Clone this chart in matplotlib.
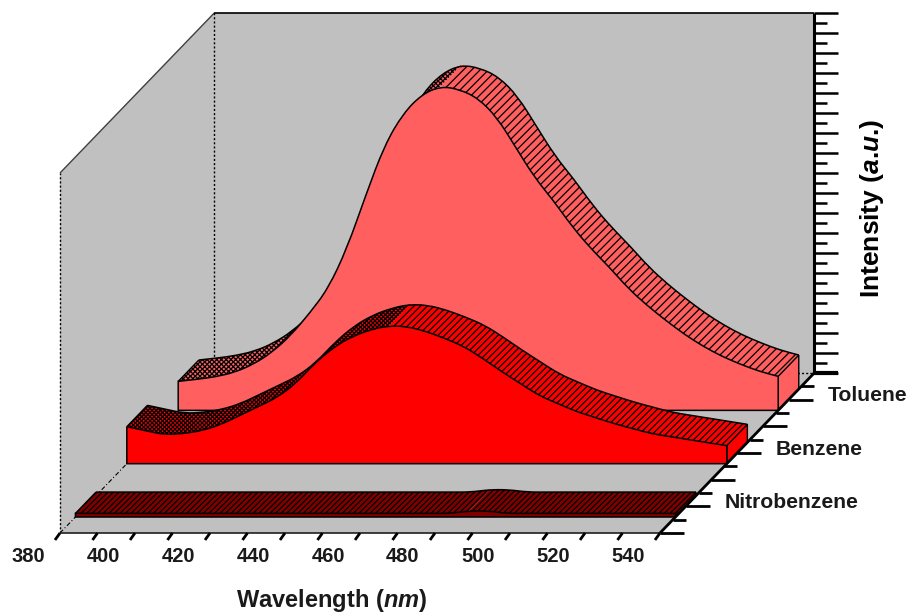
import matplotlib

matplotlib.use('Agg')
from matplotlib import pyplot as plt
from matplotlib.patches import PathPatch, Polygon
from matplotlib.path import Path

plt.rcParams['font.family'] = ['Liberation Sans', 'DejaVu Sans']
plt.rcParams['mathtext.fontset'] = 'custom'
plt.rcParams['mathtext.bf'] = 'Liberation Sans:bold'
plt.rcParams['mathtext.bfit'] = 'Liberation Sans:italic:bold'
plt.rcParams['hatch.linewidth'] = 0.9

wavelength = list(range(380, 545, 5))

toluene = [1.45, 1.55, 1.68, 1.9, 2.3, 2.9, 3.75, 4.85, 6.1, 8.1, 10.75, 13.25, 14.85, 15.8, 16.2,
           16.05, 15.6, 14.65, 13.15, 11.65, 10.5, 9.2, 8.1, 7.15, 6.1, 5.25, 4.5, 3.8, 3.2, 2.7,
           2.3, 1.95, 1.7]
benzene = [1.85, 1.65, 1.45, 1.5, 1.65, 1.95, 2.4, 2.85, 3.3, 4.0, 5.0, 5.8, 6.35, 6.7, 6.9,
           6.85, 6.6, 6.25, 5.85, 5.25, 4.6, 4.0, 3.4, 3.0, 2.6, 2.3, 2.0, 1.75, 1.5, 1.35, 1.2, 1.05,
           0.9]
nitrobenzene = [0.18, 0.18, 0.18, 0.18, 0.18, 0.18, 0.18, 0.18, 0.18, 0.18, 0.18, 0.18, 0.18, 0.18,
                0.18, 0.18, 0.18, 0.18, 0.18, 0.18, 0.18, 0.3, 0.3, 0.18, 0.18, 0.18, 0.18, 0.18,
                0.18, 0.18, 0.18, 0.18, 0.18]

x_ticks = list(range(380, 550, 10))
x_labels = [380, 400, 420, 440, 460, 480, 500, 520, 540]
depth_labels = ['Nitrobenzene', 'Benzene', 'Toluene']
depth_centres = [2, 6, 10]
series = [toluene, benzene, nitrobenzene]
colours = ['#ff5f5f', '#ff0000', '#800000']
hatches = [('////', 'xxxxxxx'), ('/////', 'xxxxxxxx'), ('//////', '//////')]

WALL = '#c0c0c0'
RIBBON = 0.8  # half width of a ribbon, in depth units


def project(wl, inten, depth):
    # oblique projection: wavelength to the right, intensity up, depth up and right
    x = 60 + (wl - 380) * 3.75 + depth * 12.85
    y = 533 - inten * 20 - depth * 13.33
    return x, y


def quad(ax, pts, zorder, **kw):
    ax.add_patch(Polygon(pts, closed=True, zorder=zorder, **kw))


def line(ax, p1, p2, **kw):
    ax.plot([p1[0], p2[0]], [p1[1], p2[1]], solid_capstyle='butt', **kw)


def smooth_edge(pts):
    # quadratic curves through the midpoints, so the outline does not look faceted
    verts = [pts[0]]
    codes = [Path.LINETO]
    for i in range(1, len(pts) - 1):
        mid = ((pts[i][0] + pts[i + 1][0]) / 2, (pts[i][1] + pts[i + 1][1]) / 2)
        verts += [pts[i], mid]
        codes += [Path.CURVE3, Path.CURVE3]
    verts.append(pts[-1])
    codes.append(Path.LINETO)
    return verts, codes


def ribbon_top(ax, wl, values, front, back, **kw):
    f_verts, f_codes = smooth_edge([project(w, v, front) for w, v in zip(wl, values)])
    b_verts, b_codes = smooth_edge([project(w, v, back) for w, v in zip(wl, values)][::-1])
    verts = f_verts + b_verts + [f_verts[0]]
    codes = f_codes + b_codes + [Path.CLOSEPOLY]
    codes[0] = Path.MOVETO
    ax.add_patch(PathPatch(Path(verts, codes), **kw))


def draw_ribbon(ax, wl, values, centre, colour, hatch, zorder):
    front = centre - RIBBON
    back = centre + RIBBON
    peak = values.index(max(values))

    # top surface, the rising side looks denser than the falling side
    ribbon_top(ax, wl[:peak + 1], values[:peak + 1], front, back, facecolor=colour, edgecolor='black',
               linewidth=0, hatch=hatch[1], zorder=zorder)
    ribbon_top(ax, wl[peak:], values[peak:], front, back, facecolor=colour, edgecolor='black',
               linewidth=0, hatch=hatch[0], zorder=zorder)

    verts, codes = smooth_edge([project(w, v, back) for w, v in zip(wl, values)])
    codes[0] = Path.MOVETO
    ax.add_patch(PathPatch(Path(verts, codes), fill=False, edgecolor='black', lw=1.1, zorder=zorder))

    # left and right ends of the ribbon
    line(ax, project(wl[0], values[0], front), project(wl[0], values[0], back),
         color='black', lw=1, zorder=zorder)
    quad(ax, [project(wl[-1], 0, front), project(wl[-1], values[-1], front),
              project(wl[-1], values[-1], back), project(wl[-1], 0, back)], zorder,
         facecolor=colour, edgecolor='black', linewidth=1)

    # front face
    verts, codes = smooth_edge([project(w, v, front) for w, v in zip(wl, values)])
    verts = [project(wl[0], 0, front)] + verts + [project(wl[-1], 0, front), project(wl[0], 0, front)]
    codes = [Path.MOVETO] + codes + [Path.LINETO, Path.CLOSEPOLY]
    ax.add_patch(PathPatch(Path(verts, codes), facecolor=colour, edgecolor='black', lw=1.1,
                           zorder=zorder + 0.5))


fig = plt.figure(figsize=(9.11, 6.13), dpi=100)
ax = fig.add_axes([0, 0, 1, 1])
ax.set_xlim(0, 911)
ax.set_ylim(613, 0)
ax.axis('off')

x0, x1 = x_ticks[0], x_ticks[-1]
top = 18
depth_end = 12

# walls and floor
quad(ax, [project(x0, 0, depth_end), project(x1, 0, depth_end), project(x1, top, depth_end),
          project(x0, top, depth_end)], 1, facecolor=WALL, edgecolor='none')
quad(ax, [project(x0, 0, 0), project(x0, 0, depth_end), project(x0, top, depth_end),
          project(x0, top, 0)], 1, facecolor=WALL, edgecolor='none')
quad(ax, [project(x0, 0, 0), project(x1, 0, 0), project(x1, 0, depth_end),
          project(x0, 0, depth_end)], 1, facecolor=WALL, edgecolor='none')

line(ax, project(x0, top, 0), project(x0, top, depth_end), color='#404040', lw=1, zorder=2)
line(ax, project(x0, top, depth_end), project(x1, top, depth_end), color='black', lw=1.2, zorder=2)
line(ax, project(x0, 0, 0), project(x0, top, 0), color='black', lw=1, ls=(0, (1.5, 1.5)), zorder=2)
line(ax, project(x0, 0, depth_end), project(x0, top, depth_end), color='black', lw=1,
     ls=(0, (1.5, 1.5)), zorder=2)
line(ax, project(x0, 0, 0), project(x0, 0, depth_end), color='black', lw=0.8,
     ls=(0, (4, 2, 1, 2)), zorder=2)
line(ax, project(x0, 0, depth_end), project(x1, 0, depth_end), color='black', lw=1,
     ls=(0, (1.5, 1.5)), zorder=2)

z = 3
for values, centre, colour, hatch in zip(series, depth_centres[::-1], colours, hatches):
    draw_ribbon(ax, wavelength, values, centre, colour, hatch, z)
    z += 1

# axes lines
line(ax, project(x0, 0, 0), project(x1, 0, 0), color='#202020', lw=1.2, zorder=8)
line(ax, project(x1, 0, 0), project(x1, 0, depth_end), color='black', lw=2, zorder=8)
line(ax, project(x1, 0, depth_end), project(x1, top, depth_end), color='black', lw=2.2, zorder=8)

# wavelength ticks
for wl in x_ticks:
    px, py = project(wl, 0, 0)
    ax.plot([px, px - 5], [py, py + 7], color='black', lw=2, solid_capstyle='butt', zorder=8)
for wl in x_labels:
    px, py = project(wl, 0, 0)
    ax.text(px - 32, 556, str(wl), ha='center', va='center', fontsize=14.5, fontweight='bold',
            color='#1a1a1a')

# depth ticks
for d in range(depth_end + 1):
    px, py = project(x1, 0, d)
    length = 24 if d % 2 == 0 else 13
    ax.plot([px, px + length], [py, py], color='black', lw=2 if d < depth_end else 3,
            solid_capstyle='butt', zorder=8)
for name, centre in zip(depth_labels, depth_centres):
    px, py = project(x1, 0, centre)
    ax.text(px + 39, py - 4, name, ha='left', va='center', fontsize=15.2, fontweight='bold',
            color='#1a1a1a')

# intensity ticks
for k in range(top * 2 + 1):
    px, py = project(x1, k / 2, depth_end)
    length = 24 if k % 2 == 0 else 13
    ax.plot([px, px + length], [py, py], color='black', lw=1.8, solid_capstyle='butt', zorder=8)

ax.text(332, 600, r'Wavelength ($\mathbfit{nm}$)', ha='center', va='center', fontsize=17,
        fontweight='bold', color='#1a1a1a')
ax.text(872, 208, r'Intensity ($\mathbfit{a}$.$\mathbfit{u}$.)', ha='center', va='center', rotation=90,
        fontsize=19, fontweight='bold', color='black')

fig.savefig('out.png', dpi=100)
